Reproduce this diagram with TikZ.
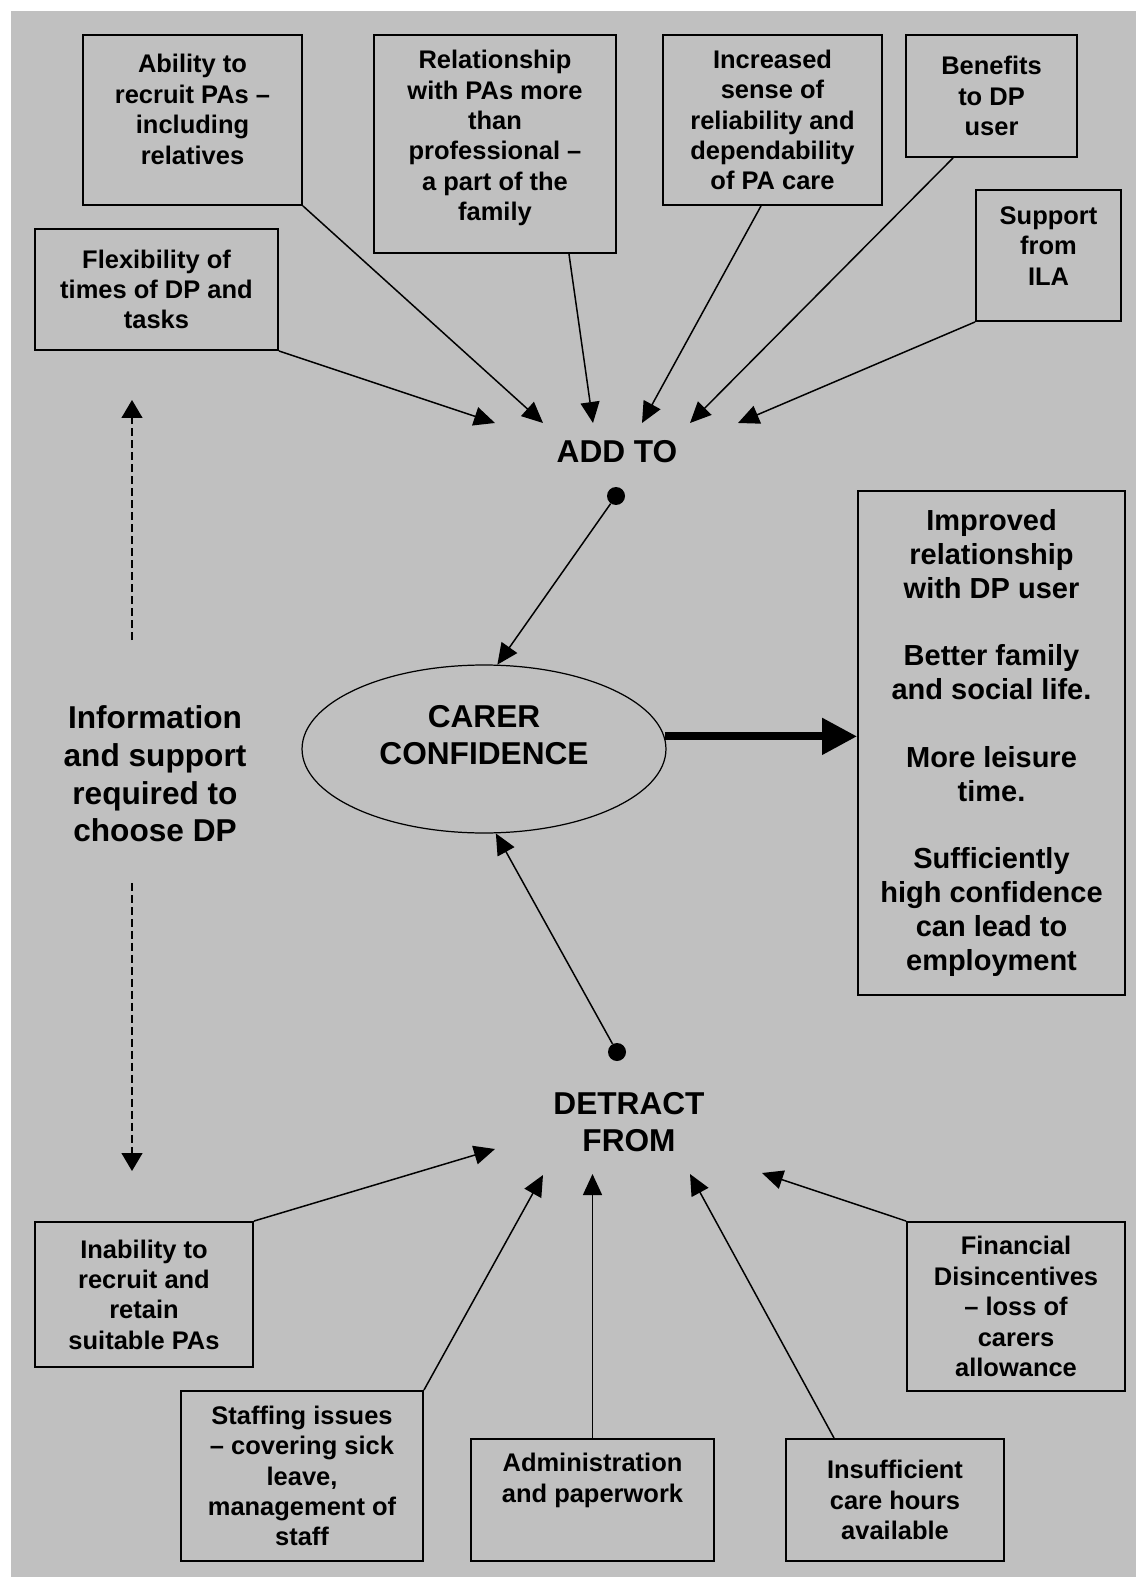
\documentclass[tikz,border=0pt]{standalone}
\usepackage{fontspec}
\setmainfont{Liberation Sans}
\usetikzlibrary{shapes.geometric,arrows.meta}
\definecolor{panelgrey}{RGB}{192,192,192}

\begin{document}
\begin{tikzpicture}[x=0.02cm, y=-0.02cm,
  factor/.style={draw, line width=1.1pt, align=center, inner sep=0pt, font=\fontsize{14.5}{17.3}\selectfont\bfseries},
  bigtext/.style={align=center, font=\fontsize{18}{21.5}\selectfont\bfseries},
  link/.style={line width=0.85pt, -{Triangle[length=0.42cm,width=0.38cm]}},
  infolink/.style={line width=0.7pt, dash pattern=on 0.16cm off 0.08cm, -{Triangle[length=0.36cm,width=0.42cm]}},
  blob/.style={circle, fill=black, inner sep=0pt, minimum size=0.36cm}]
  \useasboundingbox (0,0) rectangle (1136,1577);
  \fill[panelgrey] (11,11) rectangle (1136,1577);

  \node[factor, minimum width=4.38cm, minimum height=3.40cm] (abil) at (192.5,120) {Ability to\\recruit PAs –\\including\\relatives\\[-5pt]\mbox{}};
  \node[factor, minimum width=4.86cm, minimum height=2.42cm] (flex) at (156.5,289.5) {Flexibility of\\times of DP and\\tasks};
  \node[factor, minimum width=4.84cm, minimum height=4.36cm] (rel) at (495,144) {Relationship\\with PAs more\\than\\professional –\\a part of the\\family\\[-7.5pt]\mbox{}};
  \node[factor, minimum width=4.38cm, minimum height=3.40cm] (incr) at (772.5,120) {Increased\\sense of\\reliability and\\dependability\\of PA care};
  \node[factor, minimum width=3.42cm, minimum height=2.44cm] (benef) at (991.5,96) {Benefits\\to DP\\user};
  \node[factor, minimum width=2.90cm, minimum height=2.62cm] (sup) at (1048.5,255.5) {Support\\from\\ILA\\[-6.5pt]\mbox{}};

  \node[bigtext] (addto) at (617,452) {ADD TO};
  \node[blob] (dot1) at (616,496) {};
  \node[draw, ellipse, line width=0.7pt, minimum width=7.28cm, minimum height=3.36cm, inner sep=0pt, bigtext] (conf) at (484,749) {CARER\\CONFIDENCE\\[-5.6pt]\mbox{}};
  \node[blob] (dot2) at (617,1052) {};
  \node[bigtext] (detract) at (629,1122) {DETRACT\\FROM};
  \node[bigtext] (info) at (155,774) {Information\\and support\\required to\\choose DP};

  \node[draw, line width=1.1pt, align=center, inner sep=0pt, minimum width=5.34cm, minimum height=10.08cm, font=\fontsize{16.5}{19.3}\selectfont\bfseries] (outc) at (991.5,743) {Improved\\relationship\\with DP user\\[19pt]Better family\\and social life.\\[19pt]More leisure\\time.\\[19pt]Sufficiently\\high confidence\\can lead to\\employment};

  \node[factor, minimum width=4.36cm, minimum height=2.90cm] (inab) at (144,1294.5) {Inability to\\recruit and\\retain\\suitable PAs};
  \node[factor, minimum width=4.84cm, minimum height=3.40cm] (staff) at (302,1476) {Staffing issues\\– covering sick\\leave,\\management of\\staff};
  \node[factor, minimum width=4.86cm, minimum height=2.44cm] (admin) at (592.5,1500) {Administration\\and paperwork\\[8pt]\mbox{}};
  \node[factor, minimum width=4.36cm, minimum height=2.44cm] (insuf) at (895,1500) {Insufficient\\care hours\\available};
  \node[factor, minimum width=4.36cm, minimum height=3.38cm] (fin) at (1016,1306.5) {Financial\\Disincentives\\– loss of\\carers\\allowance};

  \coordinate (t1) at (495,423);
  \coordinate (t2) at (543,423);
  \coordinate (t3) at (593,423);
  \coordinate (t4) at (642,423);
  \coordinate (t5) at (690,423);
  \coordinate (t6) at (738,423);
  \coordinate (b1) at (495,1149);
  \coordinate (b2) at (543,1175);
  \coordinate (b3) at (592.5,1174);
  \coordinate (b4) at (690,1174);
  \coordinate (b5) at (762,1173);
  \coordinate (infoup) at (132,400);
  \coordinate (infotop) at (132,640);
  \coordinate (infobot) at (132,883);
  \coordinate (infodown) at (132,1171);

  \draw[link] (flex.south east) -- (t1);
  \draw[link] (abil.south east) -- (t2);
  \draw[link] ([xshift=-0.96cm]rel.south east) -- (t3);
  \draw[link] ([xshift=-0.23cm]incr.south) -- (t4);
  \draw[link] ([xshift=0.96cm]benef.south west) -- (t5);
  \draw[link] (sup.south west) -- (t6);

  \draw[link] (dot1) -- (conf.81);
  \draw[link] (dot2) -- (conf.-82);
  \draw[line width=4.5pt, -{Triangle[length=0.7cm,width=0.7cm]}] (conf.4) -- (conf.4 -| outc.west);

  \draw[link] (inab.north east) -- (b1);
  \draw[link] (staff.north east) -- (b2);
  \draw[link] (admin.north) -- (b3);
  \draw[link] ([xshift=0.98cm]insuf.north west) -- (b4);
  \draw[link] (fin.north west) -- (b5);

  \draw[infolink] (infotop) -- (infoup);
  \draw[infolink] (infobot) -- (infodown);
\end{tikzpicture}
\end{document}
